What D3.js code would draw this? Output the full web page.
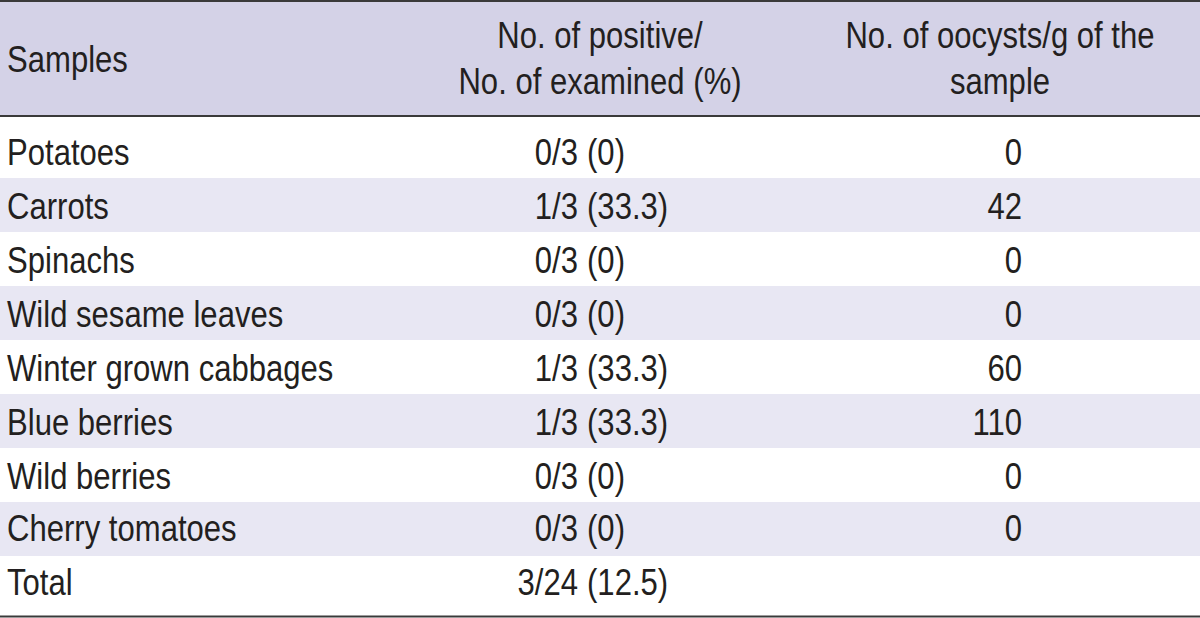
<!DOCTYPE html>
<html>
<head>
<meta charset="utf-8">
<script src="https://cdn.jsdelivr.net/npm/d3@7"></script>
<style>
  html, body { margin: 0; padding: 0; background: #ffffff; }
  svg { display: block; }
  text { font-family: "Liberation Sans", Arial, sans-serif; fill: #231f20; }
</style>
</head>
<body>
<svg id="chart" width="1200" height="618"></svg>
<script>
// ---- data ----
const headers = [
  ["Samples"],
  ["No. of positive/", "No. of examined (%)"],
  ["No. of oocysts/g of the", "sample"]
];
const samples = ["Potatoes", "Carrots", "Spinachs", "Wild sesame leaves", "Winter grown cabbages",
                 "Blue berries", "Wild berries", "Cherry tomatoes", "Total"];
const positive = [0, 1, 0, 0, 1, 1, 0, 0, 3];
const examined = [3, 3, 3, 3, 3, 3, 3, 3, 24];
const percent  = ["0", "33.3", "0", "0", "33.3", "33.3", "0", "0", "12.5"];
const oocysts  = [0, 42, 0, 0, 60, 110, 0, 0, null];

// ---- layout ----
const W = 1200, H = 618;
const svg = d3.select("#chart");
const fontSize = 37;
const sx = 0.84; // horizontal condensation
const headerTop = 1, headerBottom = 116;

const rowIdx = d3.range(samples.length);
const y = d3.scaleBand().domain(rowIdx).range([124, 124 + 54 * samples.length]).paddingInner(0).paddingOuter(0);

function label(sel, x, yy, anchor, txt) {
  return sel.append("text")
    .attr("transform", `translate(${x},${yy}) scale(${sx},1)`)
    .attr("text-anchor", anchor).attr("font-size", fontSize).text(txt);
}

// header background
svg.append("rect").attr("x", 0).attr("y", headerTop).attr("width", W).attr("height", headerBottom - headerTop)
  .attr("fill", "#d4d2e7");

// shaded rows (odd indices, excluding Total)
svg.selectAll("rect.shade").data(rowIdx.filter(i => i % 2 === 1 && i < samples.length - 1))
  .join("rect").attr("class", "shade")
  .attr("x", 0).attr("y", i => y(i)).attr("width", W).attr("height", y.bandwidth())
  .attr("fill", "#e8e7f3");

// rules
[[1, 2], [116, 2], [616.5, 2]].forEach(([yy, sw]) => {
  svg.append("line").attr("x1", 0).attr("x2", W).attr("y1", yy).attr("y2", yy)
    .attr("stroke", "#3a3a3a").attr("stroke-width", sw);
});

// headers
const hx = [7, 600, 1000];
const hanchor = ["start", "middle", "middle"];
headers.forEach((lines, c) => {
  const baseY = lines.length === 1 ? [72] : [48, 94];
  lines.forEach((t, k) => label(svg, hx[c], baseY[k], hanchor[c], t));
});

// body
const base = i => y(i) + 41 - (i >= 7 ? 2 : 0);
const parenX = 587;

rowIdx.forEach(i => {
  label(svg, 7, base(i), "start", samples[i]);
  label(svg, parenX - 9, base(i), "end", positive[i] + "/" + examined[i]);
  label(svg, parenX, base(i), "start", "(" + percent[i] + ")");
  if (oocysts[i] !== null) label(svg, 1022, base(i), "end", String(oocysts[i]));
});
</script>
</body>
</html>
